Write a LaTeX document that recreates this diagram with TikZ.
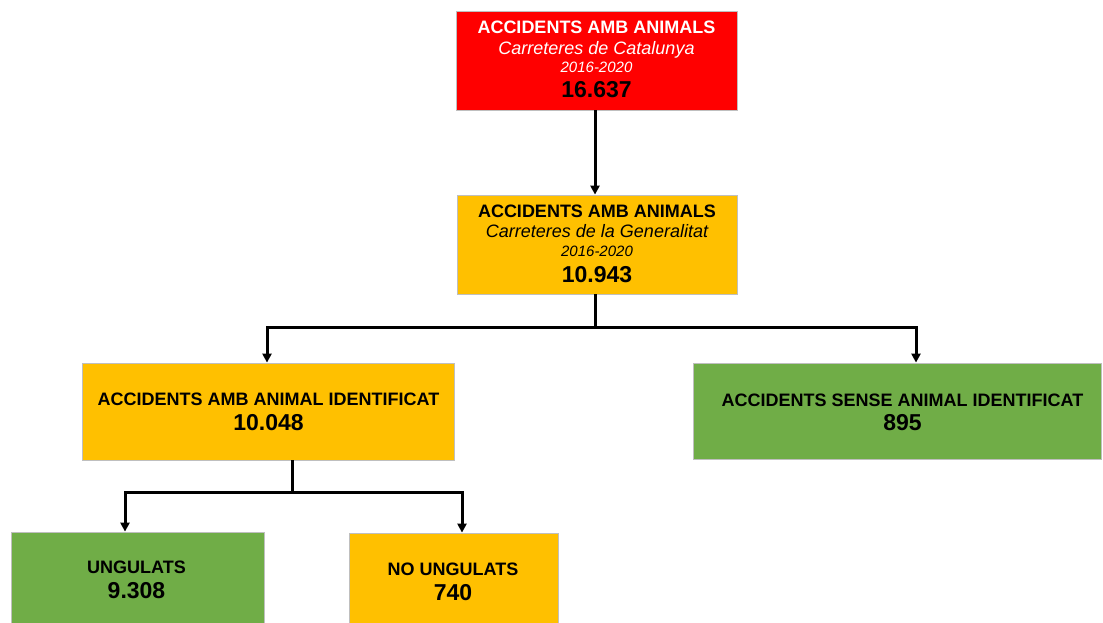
\documentclass[tikz,border=0pt]{standalone}
\usepackage{fontspec}
\setmainfont{Liberation Sans}
\usetikzlibrary{arrows.meta}
\definecolor{cred}{HTML}{FF0000}
\definecolor{cyel}{HTML}{FFC000}
\definecolor{cgrn}{HTML}{70AD47}
\definecolor{cbord}{HTML}{BFBFBF}
\tikzset{
  box/.style={draw=cbord, line width=0.8pt, inner sep=0pt, rectangle},
  ttl/.style={anchor=base, inner sep=0pt, font=\fontsize{18}{20}\selectfont\bfseries},
  sub/.style={anchor=base, inner sep=0pt, font=\fontsize{18}{20}\selectfont\itshape},
  yr/.style={anchor=base, inner sep=0pt, font=\fontsize{15}{17}\selectfont\itshape},
  num/.style={anchor=base, inner sep=0pt, font=\fontsize{23}{25}\selectfont\bfseries},
  conn/.style={line width=3pt, black},
  arr/.style={conn, -{Triangle[width=9pt,length=9pt]}}
}
\begin{document}
\begin{tikzpicture}[x=1pt,y=-1pt]
\clip (0,0) rectangle (1103,623);
\fill[white] (0,0) rectangle (1103,623);
% boxes
\node[box, fill=cred, minimum width=281pt, minimum height=99pt] (b1) at (596.5,60.5) {};
\node[box, fill=cyel, minimum width=280pt, minimum height=99pt] (b2) at (597,244.5) {};
\node[box, fill=cyel, minimum width=372pt, minimum height=97pt] (b3) at (268,411.5) {};
\node[box, fill=cgrn, minimum width=408pt, minimum height=96pt] (b4) at (897,411) {};
\node[box, fill=cgrn, minimum width=253pt, minimum height=108pt] (b5) at (137.5,586) {};
\node[box, fill=cyel, minimum width=209pt, minimum height=107pt] (b6) at (453.5,586.5) {};
% texts
\node[ttl, text=white] (t1a) at (596.5,34) {ACCIDENTS AMB ANIMALS};
\node[sub, text=white] (t1b) at (596.5,55) {Carreteres de Catalunya};
\node[yr, text=white] (t1c) at (596.5,73) {2016-2020};
\node[num] (t1d) at (596.5,98) {16.637};
\node[ttl] (t2a) at (597,217) {ACCIDENTS AMB ANIMALS};
\node[sub] (t2b) at (597,237) {Carreteres de la Generalitat};
\node[yr] (t2c) at (597,256) {2016-2020};
\node[num] (t2d) at (597,282) {10.943};
\node[ttl] (t3a) at (268.5,405) {ACCIDENTS AMB ANIMAL IDENTIFICAT};
\node[num] (t3b) at (268.5,430) {10.048};
\node[ttl] (t4a) at (902.5,406) {ACCIDENTS SENSE ANIMAL IDENTIFICAT};
\node[num] (t4b) at (902.5,430) {895};
\node[ttl] (t5a) at (136.5,573) {UNGULATS};
\node[num] (t5b) at (136.5,598) {9.308};
\node[ttl] (t6a) at (453,575) {NO UNGULATS};
\node[num] (t6b) at (453,600) {740};
% junctions
\coordinate (j1) at (595,327);
\coordinate (j2) at (292,492);
\coordinate (a3) at (267,0);
\coordinate (a4) at (916,0);
\coordinate (a5) at (125,0);
\coordinate (a6) at (462,0);
% connectors
\draw[arr] (b1.south -| j1) -- (b2.north -| j1);
\draw[conn] (b2.south -| j1) -- (j1);
\draw[arr] (j1) -| (b3.north -| a3);
\draw[arr] (j1) -| (b4.north -| a4);
\draw[conn] (b3.south -| j2) -- (j2);
\draw[arr] (j2) -| (b5.north -| a5);
\draw[arr] (j2) -| (b6.north -| a6);
\end{tikzpicture}
\end{document}
